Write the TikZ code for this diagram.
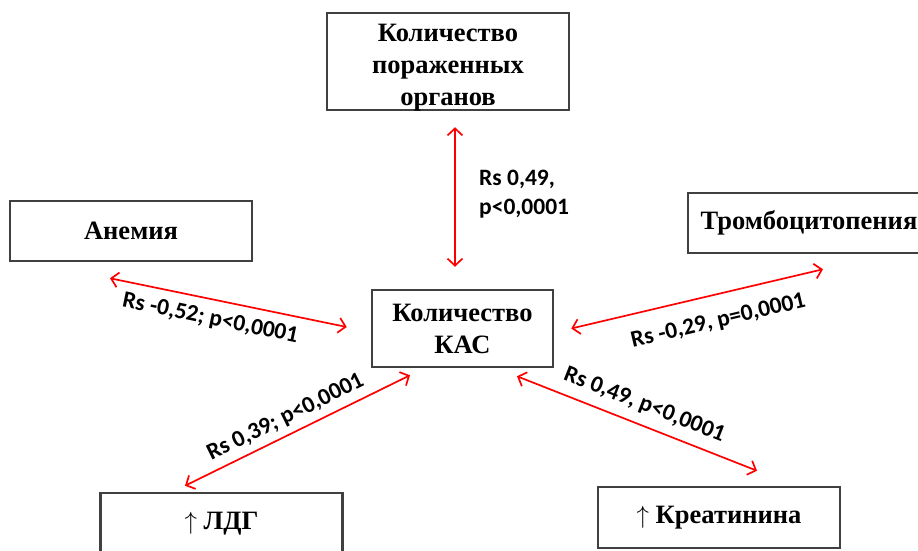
\documentclass[tikz,border=0pt]{standalone}
\usepackage{fontspec}
\setmainfont{Liberation Serif}
\newfontfamily\lblfont{Carlito}
\usetikzlibrary{arrows.meta,calc}
\definecolor{boxgray}{HTML}{404040}
\tikzset{
  box/.style={draw=boxgray, line width=2.5pt, minimum width=242, minimum height=60,
    align=center, font=\bfseries\fontsize{26.5}{32}\selectfont},
  link/.style={draw=red, line width=1.7pt, {Straight Barb[length=7pt,width=15pt]}-{Straight Barb[length=7pt,width=15pt]}},
  rs/.style={font=\lblfont\bfseries\fontsize{23.5}{29}\selectfont, sloped}
}
\begin{document}
\begin{tikzpicture}[x=1pt,y=-1pt]
  \useasboundingbox (0,0) rectangle (918,550);
  \clip (0,0) rectangle (918,550);
  \node[box, minimum height=97, text height=88pt, text depth=0pt] (organs) at (448,61.5) {Количество\\пораженных\\органов};
  \node[box] (anemia) at (131,231) {Анемия};
  \node[box] (trombo) at (809,223) {Тромбоцитопения};
  \node[box, minimum width=181, minimum height=77] (kas) at (462.5,328.5) {Количество\\КАС};
  \node[box, minimum height=61] (ldg) at (221.5,523.5) {$\uparrow$ ЛДГ};
  \node[box, minimum height=61] (kreat) at (719,517.5) {$\uparrow$ Креатинина};

  \draw[link] ($(organs.south)+(7,16)$) -- node[pos=0.48, right=20pt, align=left, font=\lblfont\bfseries\fontsize{23.5}{29}\selectfont] {Rs 0,49,\\p<0,0001} ($(kas.north)+(-7.5,-22)$);
  \draw[link] ($(anemia.south)+(-21,16)$) -- node[rs, pos=0.44, below=6pt] {Rs -0,52; p<0,0001} ($(kas.west)+(-24,-1.5)$);
  \draw[link] ($(ldg.north)+(-36.5,-6)$) -- node[rs, pos=0.48, above=3pt] {Rs 0,39; p<0,0001} ($(kas.south)+(-52.5,7)$);
  \draw[link] ($(kas.east)+(17,0)$) -- node[rs, pos=0.56, below=13pt] {Rs -0,29, p=0,0001} ($(trombo.south)+(14,15)$);
  \draw[link] ($(kas.south)+(54.5,8)$) -- node[rs, pos=0.5, above=6pt] {Rs 0,49, p<0,0001} ($(kreat.north)+(38,-15)$);
\end{tikzpicture}
\end{document}
